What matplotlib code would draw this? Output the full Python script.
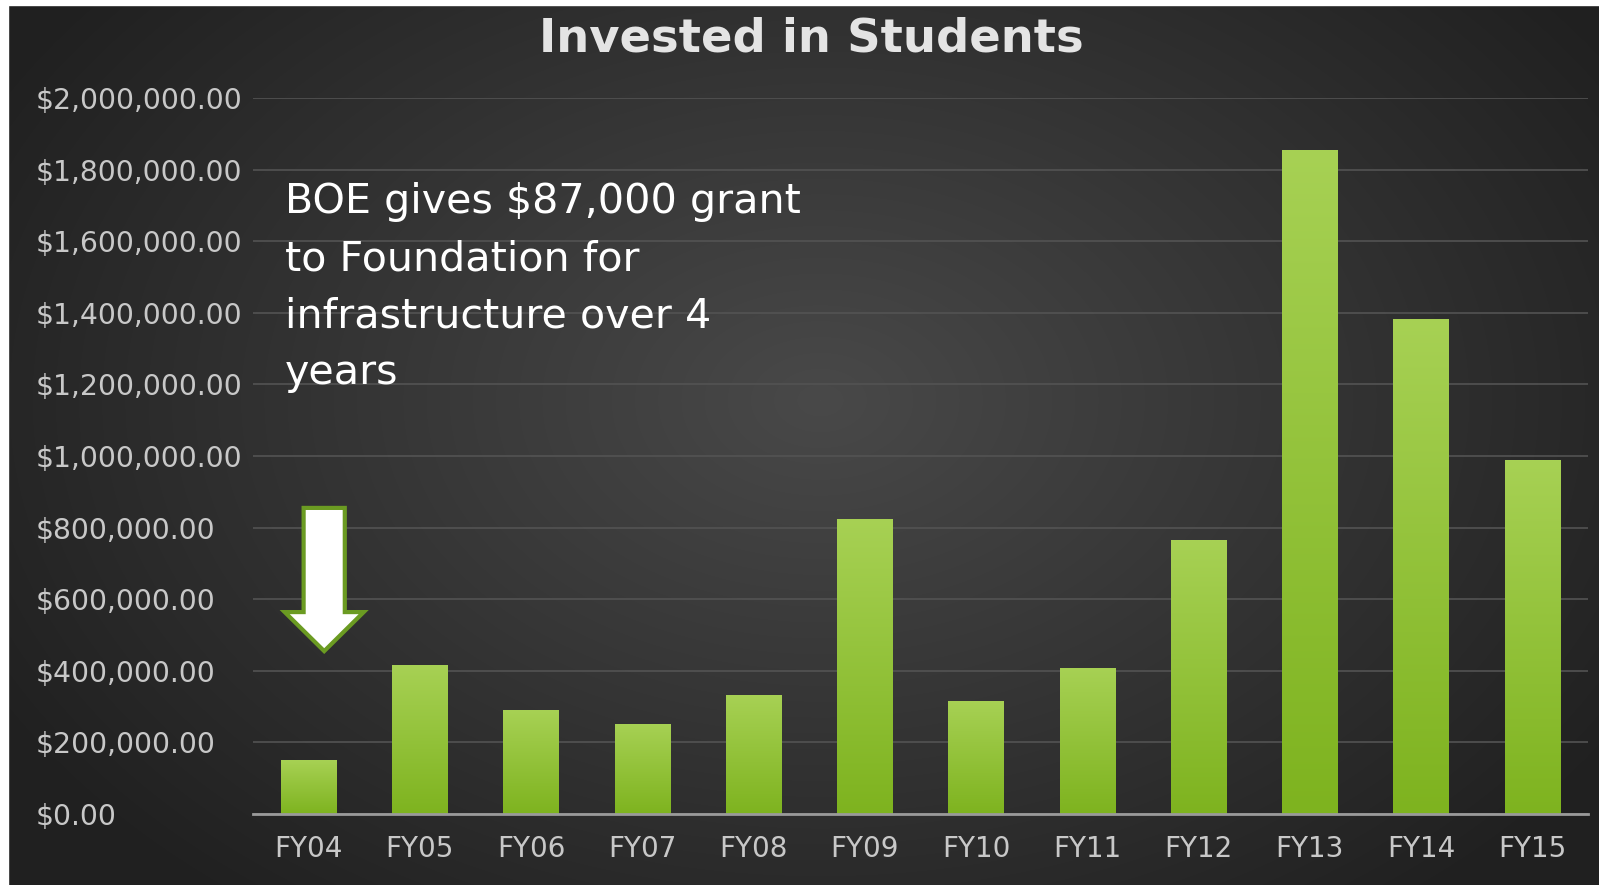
import numpy as np
import matplotlib
matplotlib.use("Agg")
import matplotlib.pyplot as plt
from matplotlib.patches import FancyArrow, Rectangle
from matplotlib.colors import LinearSegmentedColormap

categories = ["FY04", "FY05", "FY06", "FY07", "FY08", "FY09", "FY10", "FY11", "FY12", "FY13", "FY14", "FY15"]
values = [150000, 415000, 290000, 252000, 332000, 825000, 315000, 408000, 765000, 1855000, 1383000, 988000]
yticks = [0, 200000, 400000, 600000, 800000, 1000000, 1200000, 1400000, 1600000, 1800000, 2000000]
title = "Invested in Students"
note_lines = ["BOE gives $87,000 grant", "to Foundation for", "infrastructure over 4", "years"]

W, H = 1599, 885
fig = plt.figure(figsize=(W / 100, H / 100), dpi=100)

# background radial gradient
bg = fig.add_axes([0, 0, 1, 1], zorder=-10)
yy, xx = np.mgrid[0:H, 0:W]
cx, cy = 820, 400
r = np.sqrt(((xx - cx) / 950.0) ** 2 + ((yy - cy) / 650.0) ** 2)
r = np.clip(r, 0, 1)
inner = np.array([0x49, 0x49, 0x49]) / 255.0
outer = np.array([0x20, 0x20, 0x20]) / 255.0
img = inner[None, None, :] * (1 - r[..., None]) + outer[None, None, :] * r[..., None]
bg.imshow(img, extent=[0, W, H, 0], aspect="auto")
bg.add_patch(Rectangle((0, 0), 8, H, color="white"))
bg.add_patch(Rectangle((0, 0), W, 5, color="white"))
bg.set_xlim(0, W)
bg.set_ylim(H, 0)
bg.axis("off")

left, right, base, top = 253, 1588, 814, 98
ax = fig.add_axes([left / W, (H - base) / H, (right - left) / W, (base - top) / H])
ax.set_facecolor("none")

for s in ["top", "right", "left"]:
    ax.spines[s].set_visible(False)
ax.spines["bottom"].set_color("#9a9a9a")
ax.spines["bottom"].set_linewidth(2)
ax.spines["bottom"].set_zorder(5)

ax.set_yticks(yticks)
ax.set_yticklabels(["${:,.2f}".format(v) for v in yticks])
ax.yaxis.grid(True, color="#535353", lw=1.2)
ax.set_axisbelow(True)
ax.tick_params(axis="y", length=0, pad=(left - 36) * 0.72, labelsize=20.3, labelcolor="#c8c8c8")
for lab in ax.get_yticklabels():
    lab.set_ha("left")
ax.set_xticks(range(len(categories)))
ax.set_xticklabels(categories)
ax.tick_params(axis="x", length=0, pad=15, labelsize=20, labelcolor="#c8c8c8")

cmap = LinearSegmentedColormap.from_list("g", ["#7eb31f", "#a7d154"])
grad = np.linspace(0, 1, 256).reshape(-1, 1)
bars = ax.bar(range(len(categories)), values, width=0.5, color="none", zorder=3)
for b in bars:
    x0, y0 = b.get_x(), b.get_y()
    w, h = b.get_width(), b.get_height()
    im = ax.imshow(grad, cmap=cmap, extent=[x0, x0 + w, y0, y0 + h], origin="lower",
                   aspect="auto", zorder=3)
    im.set_clip_path(b)
ax.set_xlim(-0.5, len(categories) - 0.5)
ax.set_ylim(0, 2000000)

arrow = FancyArrow(0.14, 855000, 0, -400000, width=0.37, head_width=0.71, head_length=109000,
                   length_includes_head=True, fc="white", ec="#6b9b22", lw=3, zorder=6)
ax.add_patch(arrow)

fig.text(811 / W, 1 - 52 / H, title, ha="center", va="baseline", fontsize=33.5,
         fontweight="bold", color="#e4e4e4")

for i, line in enumerate(note_lines):
    fig.text(285 / W, 1 - (213 + 57 * i) / H, line, ha="left", va="baseline",
             fontsize=29.7, color="white")

fig.savefig("out.png", dpi=100)
